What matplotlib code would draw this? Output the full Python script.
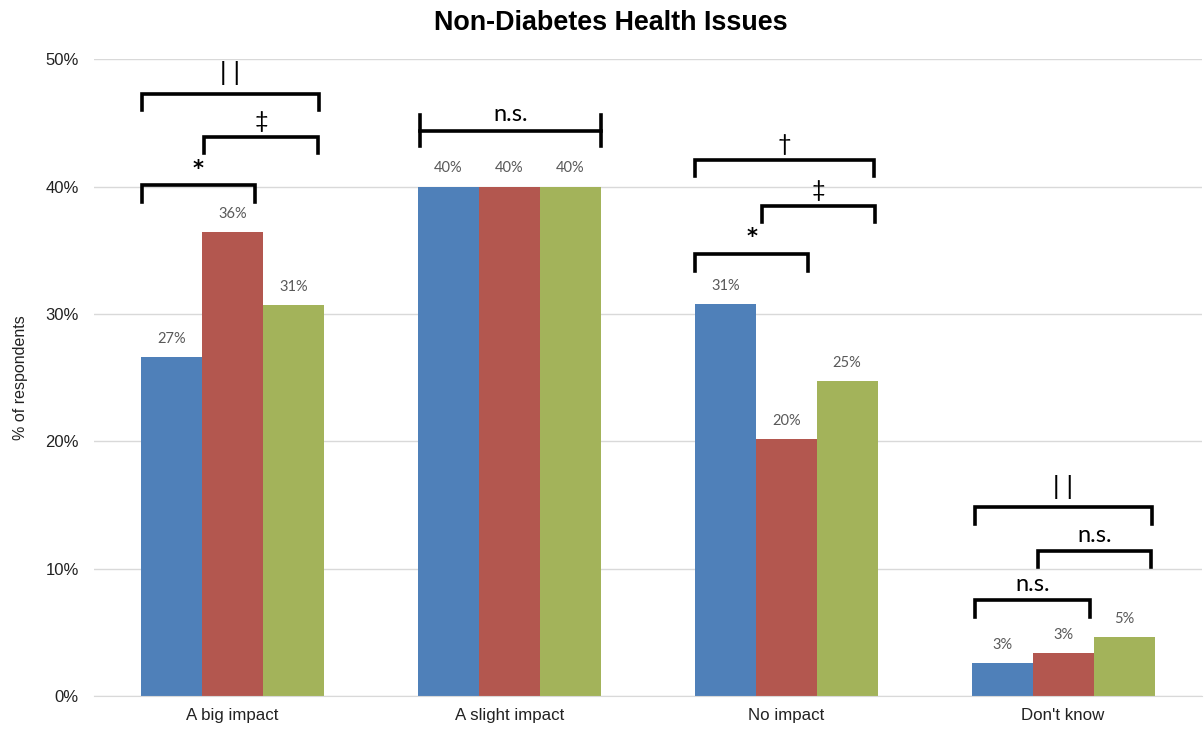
import matplotlib
matplotlib.use("Agg")
import matplotlib.pyplot as plt
import numpy as np

# ---- data -------------------------------------------------------------
categories = ["A big impact", "A slight impact", "No impact", "Don't know"]
series_1 = [26.6, 40.0, 30.8, 2.6]
series_2 = [36.4, 40.0, 20.2, 3.4]
series_3 = [30.7, 40.0, 24.7, 4.6]
y_ticks = [0, 10, 20, 30, 40, 50]

# significance brackets: (category, left offset, right offset, height %, label)
brackets = [
    (0, -0.328, 0.313, 47.3, "| |"),
    (0, -0.101, 0.309, 43.9, "‡"),
    (0, -0.328, 0.083, 40.1, "*"),
    (2, -0.328, 0.317, 42.1, "†"),
    (2, -0.087, 0.320, 38.5, "‡"),
    (2, -0.328, 0.079, 34.7, "*"),
    (3, -0.320, 0.320, 14.8, "| |"),
    (3, -0.090, 0.317, 11.4, "n.s."),
    (3, -0.320, 0.097, 7.5, "n.s."),
]
# a plain span with end ticks (no drop)
spans = [(1, -0.324, 0.331, 44.4, "n.s.")]

# ---- style ------------------------------------------------------------
colors = ["#4F80B9", "#B3574F", "#A3B35A"]
label_font = ["Lato", "DejaVu Sans"]
plt.rcParams["font.family"] = ["Liberation Sans", "DejaVu Sans"]

fig = plt.figure(figsize=(12.04, 7.31), dpi=100)
ax = fig.add_axes([0.078, 0.048, 0.920, 0.871])

x = np.arange(len(categories))
w = 0.22
for k, (vals, c) in enumerate(zip([series_1, series_2, series_3], colors)):
    pos = x + (k - 1) * w
    bars = ax.bar(pos, vals, width=w, color=c, zorder=2)
    for b, v in zip(bars, vals):
        ax.annotate(f"{v:.0f}%", (b.get_x() + b.get_width() / 2, v),
                    xytext=(0, 8), textcoords="offset points",
                    ha="center", va="bottom", fontsize=10.5,
                    color="#595959", family=label_font)

ax.set_xlim(-0.5, len(categories) - 0.5)
ax.set_ylim(0, 50)
ax.set_yticks(y_ticks)
ax.set_yticklabels([f"{t}%" for t in y_ticks], fontsize=12, color="#222222")
ax.set_xticks(x)
ax.set_xticklabels(categories, fontsize=12.2, color="#222222")
ax.tick_params(axis="y", length=0, pad=11)
ax.tick_params(axis="x", length=0, pad=9)
ax.grid(axis="y", color="#D9D9D9", linewidth=1, zorder=0)
for s in ["top", "right", "left"]:
    ax.spines[s].set_visible(False)
ax.spines["bottom"].set_color("#D9D9D9")

ax.set_ylabel("% of respondents", fontsize=11.5, color="#222222", labelpad=12)


def bracket_label(xc, h, lab):
    if lab == "| |":
        ax.text(xc, h + 1.6, lab, ha="center", va="center", fontsize=18,
                family=["Liberation Sans"], color="black")
    elif lab == "*":
        ax.text(xc, h + 1.3, lab, ha="center", va="center", fontsize=15,
                family=["DejaVu Sans"], fontweight="bold", color="black")
    else:
        ax.text(xc, h + 0.4, lab, ha="center", va="bottom",
                fontsize=17, family=label_font, color="black")


drop = 1.3
for cat, l, r, h, lab in brackets:
    x0, x1 = cat + l, cat + r
    ax.plot([x0, x0, x1, x1], [h - drop, h, h, h - drop], color="black",
            lw=2.6, solid_joinstyle="miter", zorder=3, clip_on=False)
    bracket_label((x0 + x1) / 2, h, lab)

for cat, l, r, h, lab in spans:
    x0, x1 = cat + l, cat + r
    ax.plot([x0, x1], [h, h], color="black", lw=2.6, zorder=3)
    for xx in (x0, x1):
        ax.plot([xx, xx], [h - 1.2, h + 1.2], color="black", lw=2.6, zorder=3)
    bracket_label((x0 + x1) / 2, h, lab)

fig.text(0.507, 0.968, "Non-Diabetes Health Issues", ha="center", va="center",
         fontsize=19.4, fontweight="bold")

fig.savefig("out.png", dpi=100)
